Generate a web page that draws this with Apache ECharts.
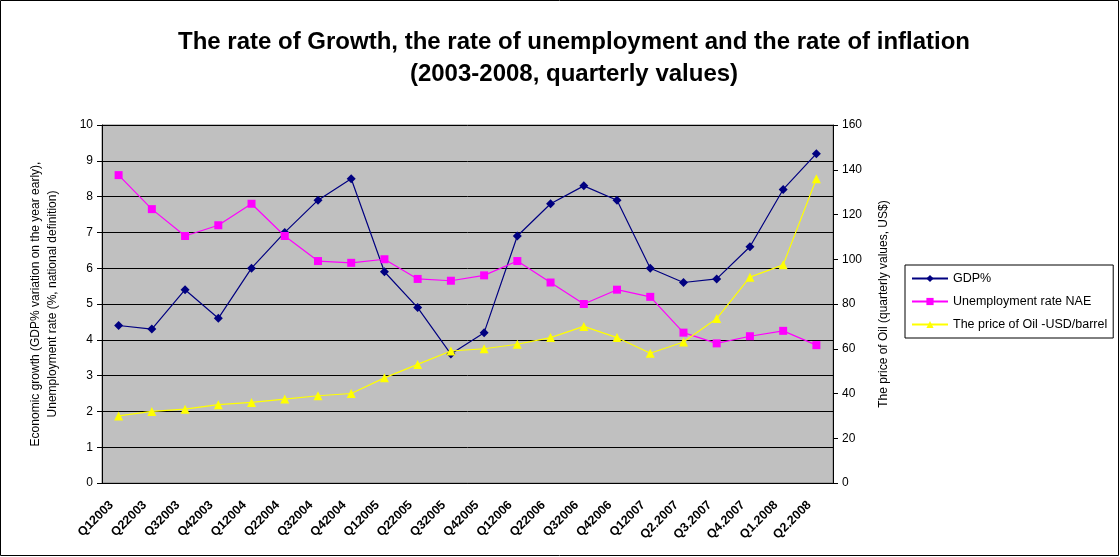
<!DOCTYPE html>
<html>
<head>
<meta charset="utf-8">
<script src="https://cdn.jsdelivr.net/npm/echarts@6/dist/echarts.min.js"></script>
<style>
html,body{margin:0;padding:0;background:#fff;}
#chart{width:1120px;height:557px;}
</style>
</head>
<body>
<div id="chart"></div>
<script>
// data
var quarters = ['Q12003','Q22003','Q32003','Q42003','Q12004','Q22004','Q32004','Q42004',
  'Q12005','Q22005','Q32005','Q42005','Q12006','Q22006','Q32006','Q42006',
  'Q12007','Q2.2007','Q3.2007','Q4.2007','Q1.2008','Q2.2008'];
var gdp = [4.4,4.3,5.4,4.6,6.0,7.0,7.9,8.5,5.9,4.9,3.6,4.2,6.9,7.8,8.3,7.9,6.0,5.6,5.7,6.6,8.2,9.2];
var unemployment = [8.6,7.65,6.9,7.2,7.8,6.9,6.2,6.15,6.25,5.7,5.65,5.8,6.2,5.6,5.0,5.4,5.2,4.2,3.9,4.1,4.25,3.85];
var oil = [30,32,33,35,36,37.5,39,40,47,53,59,60,62,65,70,65,58,63,73.5,92,97.5,136];

var font = 'Arial, "Liberation Sans", sans-serif';

var chart = echarts.init(document.getElementById('chart'));
var option = {
    animation: false,
    backgroundColor: '#fff',
    textStyle: {fontFamily: font},
    title: {
        text: 'The rate of Growth, the rate of unemployment and the rate of inflation\n(2003-2008, quarterly values)',
        left: 569,
        textAlign: 'center',
        top: 21,
        textStyle: {fontSize: 24, fontWeight: 'bold', color: '#000', lineHeight: 32, fontFamily: font}
    },
    graphic: [{
        type: 'rect',
        shape: {x: 0.5, y: 0.5, width: 1118, height: 555},
        style: {fill: 'none', stroke: '#000', lineWidth: 1},
        silent: true
    }],
    legend: {
        orient: 'vertical',
        left: 905,
        top: 265,
        padding: [7, 6, 7, 6],
        itemGap: 10,
        itemWidth: 36,
        itemHeight: 9,
        borderColor: '#000',
        borderWidth: 1,
        textStyle: {fontSize: 12.5, color: '#000', fontFamily: font},
        data: ['GDP%', 'Unemployment rate NAE', 'The price of Oil -USD/barrel']
    },
    grid: {
        left: 102, right: 287, top: 125, bottom: 74,
        show: true,
        backgroundColor: '#c0c0c0',
        borderColor: '#808080',
        borderWidth: 1
    },
    xAxis: {
        type: 'category',
        data: quarters,
        boundaryGap: true,
        axisLine: {lineStyle: {color: '#000'}},
        axisTick: {lineStyle: {color: '#000'}, length: 4},
        axisLabel: {rotate: 45, fontSize: 12.5, fontWeight: 'bold', color: '#000', margin: 13,
            padding: [0, 10, 0, 0], interval: 0},
        splitLine: {show: false}
    },
    yAxis: [{
        type: 'value',
        min: 0, max: 10, interval: 1,
        position: 'left',
        name: 'Economic growth (GDP% variation on the year early),\nUnemployment rate (%, national definition)',
        nameLocation: 'middle',
        nameGap: 41,
        nameRotate: 90,
        nameTextStyle: {fontSize: 12, color: '#000', lineHeight: 17},
        axisLine: {show: true, lineStyle: {color: '#000'}},
        axisTick: {show: true, lineStyle: {color: '#000'}, length: 5},
        axisLabel: {fontSize: 12, color: '#000', margin: 9},
        splitLine: {show: true, lineStyle: {color: '#000', width: 1}}
    }, {
        type: 'value',
        min: 0, max: 160, interval: 20,
        position: 'right',
        name: 'The price of Oil (quarterly values, US$)',
        nameLocation: 'middle',
        nameGap: 45,
        nameRotate: 90,
        nameTextStyle: {fontSize: 12, color: '#000'},
        axisLine: {show: true, lineStyle: {color: '#000'}},
        axisTick: {show: true, lineStyle: {color: '#000'}, length: 5},
        axisLabel: {fontSize: 12, color: '#000', margin: 9},
        splitLine: {show: false}
    }],
    series: [{
        name: 'GDP%',
        type: 'line',
        data: gdp,
        symbol: 'diamond',
        symbolSize: 9,
        color: '#000080',
        lineStyle: {color: '#000080', width: 1.2},
        itemStyle: {color: '#000080'}
    }, {
        name: 'Unemployment rate NAE',
        type: 'line',
        data: unemployment,
        symbol: 'rect',
        symbolSize: 8,
        color: '#ff00ff',
        lineStyle: {color: '#ff00ff', width: 1.2},
        itemStyle: {color: '#ff00ff'}
    }, {
        name: 'The price of Oil -USD/barrel',
        type: 'line',
        yAxisIndex: 1,
        data: oil,
        symbol: 'triangle',
        symbolSize: 9,
        color: '#ffff00',
        lineStyle: {color: '#ffff00', width: 1.2},
        itemStyle: {color: '#ffff00'}
    }]
};
chart.setOption(option);
</script>
</body>
</html>
